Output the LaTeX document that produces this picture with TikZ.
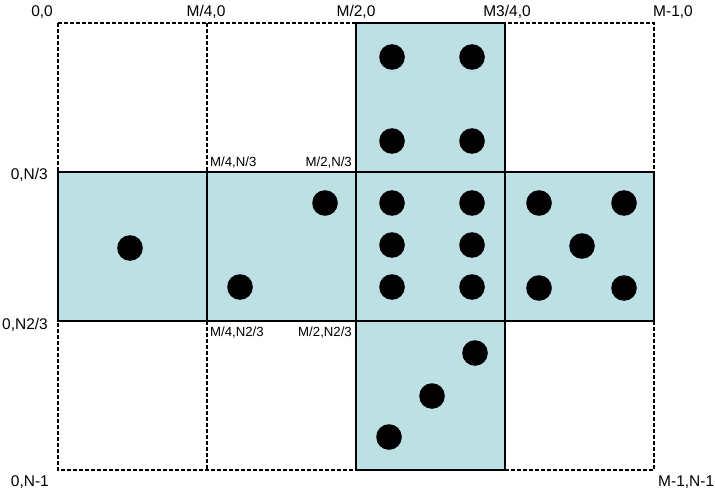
\documentclass[tikz,border=0pt]{standalone}
\usepackage{fontspec}
\setmainfont{Liberation Sans}
\definecolor{cellblue}{RGB}{188,224,228}
\begin{document}
\begin{tikzpicture}[x=1pt,y=-1pt,
  gridline/.style={line width=1.1pt,dash pattern=on 4pt off 2pt},
  facefill/.style={fill=cellblue},
  faceedge/.style={draw=black,line width=2.8pt},
  pip/.style={fill=black},
  biglabel/.style={font=\fontsize{15.5}{18}\selectfont,inner sep=0pt},
  smalllabel/.style={font=\fontsize{13.2}{15}\selectfont,inner sep=0pt}]
\useasboundingbox (0,0) rectangle (715,492);
% dashed grid
\draw[gridline] (58,23) rectangle (654,470);
\draw[gridline] (207,23) -- (207,172);
\draw[gridline] (207,321) -- (207,470);
% faces
\fill[facefill] (356,23) rectangle (505,172);
\fill[facefill] (58,172) rectangle (654,321);
\fill[facefill] (356,321) rectangle (505,470);
\draw[faceedge] (356,23) rectangle (505,172);
\draw[faceedge] (58,172) rectangle (207,321);
\draw[faceedge] (207,172) rectangle (356,321);
\draw[faceedge] (356,172) rectangle (505,321);
\draw[faceedge] (505,172) rectangle (654,321);
\draw[faceedge] (356,321) rectangle (505,470);
% pips: top face (4)
\foreach \p in {(392,57),(472,57),(392,141),(472,141)}
  \fill[pip] \p circle[radius=12.8pt];
% left face (1)
\fill[pip] (130,248) circle[radius=12.8pt];
% second face (2)
\foreach \p in {(325,203),(240,287)}
  \fill[pip] \p circle[radius=12.8pt];
% centre face (6)
\foreach \p in {(392,203),(472,203),(392,245),(472,245),(392,287),(472,287)}
  \fill[pip] \p circle[radius=12.8pt];
% right face (5)
\foreach \p in {(539,203),(624,203),(582,246),(539,288),(624,288)}
  \fill[pip] \p circle[radius=12.8pt];
% bottom face (3)
\foreach \p in {(475,353),(432,396),(389,437)}
  \fill[pip] \p circle[radius=12.8pt];
% labels
\node[biglabel,anchor=east] (l00) at (53,12) {0,0};
\node[biglabel] (lm40) at (206,12) {M/4,0};
\node[biglabel] (lm20) at (356,12) {M/2,0};
\node[biglabel] (lm340) at (507,12) {M3/4,0};
\node[biglabel,anchor=west] (lm10) at (653,12) {M-1,0};
\node[biglabel,anchor=east] (l0n3) at (48,175) {0,N/3};
\node[biglabel,anchor=east] (l0n23) at (48,325) {0,N2/3};
\node[biglabel,anchor=east] (l0n1) at (49,482) {0,N-1};
\node[biglabel,anchor=west] (lm1n1) at (658,482) {M-1,N-1};
\node[smalllabel,anchor=west] (lm4n3) at (210,163) {M/4,N/3};
\node[smalllabel,anchor=east] (lm2n3) at (352,163) {M/2,N/3};
\node[smalllabel,anchor=west] (lm4n23) at (210,333) {M/4,N2/3};
\node[smalllabel,anchor=east] (lm2n23) at (352,333) {M/2,N2/3};
\end{tikzpicture}
\end{document}
